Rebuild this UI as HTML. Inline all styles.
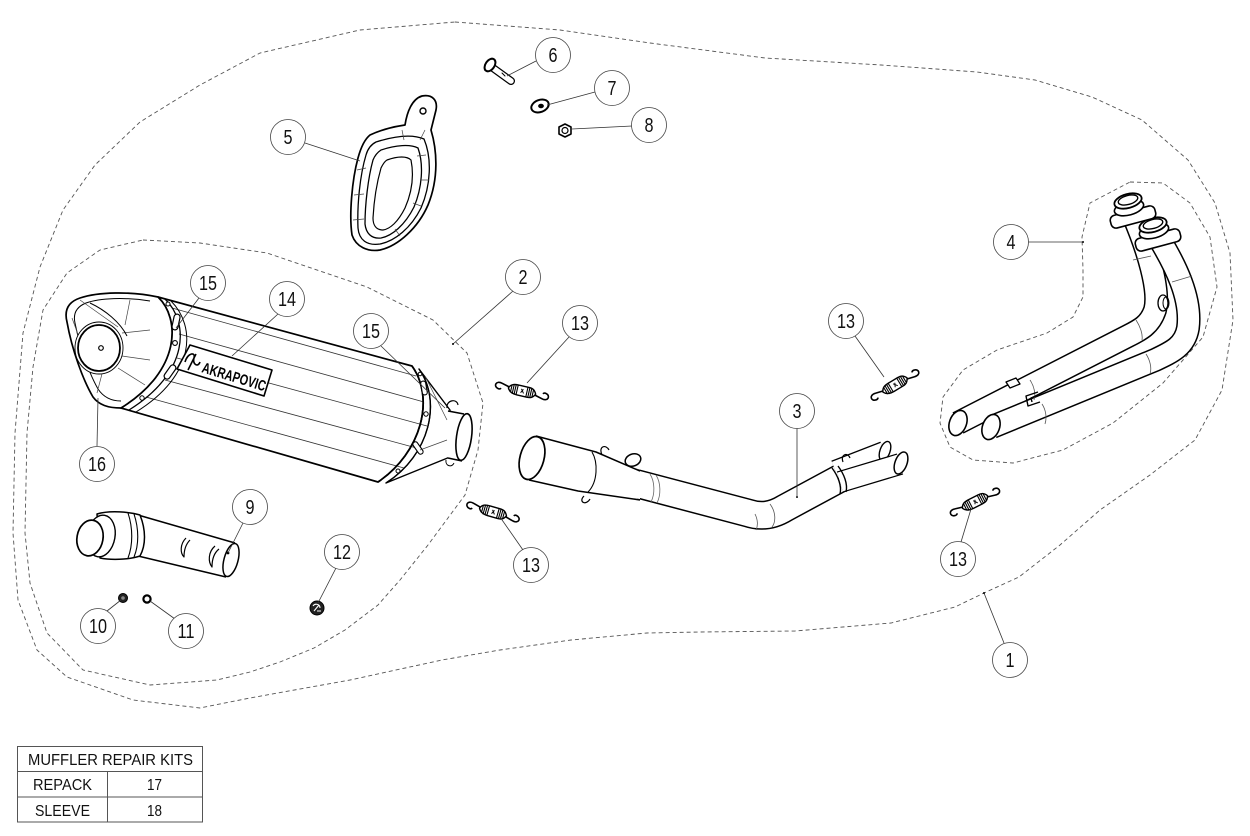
<!DOCTYPE html>
<html><head><meta charset="utf-8"><style>
html,body{margin:0;padding:0;background:#fff;}
svg{display:block;}
.t{font-family:"Liberation Sans Narrow","Liberation Sans",sans-serif;fill:#111;}
</style></head><body>
<svg width="1250" height="836" viewBox="0 0 1250 836" xmlns="http://www.w3.org/2000/svg">
<rect width="1250" height="836" fill="#fff"/>
<defs>
<g id="spr">
 <path d="M-13,-1 L-21,-3 C-28,-5 -29,2 -24,3 C-22,3.5 -21,2 -21,2" fill="none" stroke="#000" stroke-width="1.6"/>
 <path d="M13,1 L21,3 C28,5 29,-2 24,-3 C22,-3.5 21,-2 21,-2" fill="none" stroke="#000" stroke-width="1.6"/>
 <path d="M-14,0 C-12,-5 -8,-5 -4,-5 L6,-5 C10,-5 12,-4 14,0 C12,4 10,5 6,5 L-4,5 C-8,5 -12,4 -14,0 Z" fill="#fff" stroke="#000" stroke-width="1.4"/>
 <path d="M-11,-4 L-11,4 M-9,-5 L-9,5 M-7,-5 L-7,5 M-5,-5 L-5,5 M5,-5 L5,5 M7,-5 L7,5 M9,-4.5 L9,4.5 M11,-3.5 L11,3.5" stroke="#000" stroke-width="1.1"/>
 <path d="M-1,-2 L2,2 M1,-2 L-1,2" stroke="#000" stroke-width="1"/>
</g>
</defs>

<!-- outer dashed outline (1) -->
<path d="M455,22 L560,30 L650,43 L765,58 L881,65 L977,72 L1035,80 L1092,97 L1142,120 L1188,160 L1215,203 L1230,253 L1233,320 L1222,390 L1195,440 L1150,475 L1100,510 L1060,545 L1019,577 L984,593 L955,607 L891,623 L795,631 L700,632 L647,633 L571,640 L500,650 L442,660 L350,680 L250,698 L200,708 L133,700 L67,677 L37,650 L18,600 L13,533 L15,433 L23,333 L40,267 L63,210 L95,165 L140,122 L200,85 L260,53 L360,30 Z" fill="none" stroke="#555" stroke-width="0.9" stroke-dasharray="4 3"/>
<!-- inner dashed outline (2) -->
<path d="M143,240 L200,243 L267,253 L367,287 L433,320 L467,353 L483,403 L478,450 L465,495 L428,545 L400,580 L378,605 L345,630 L314,648 L280,662 L250,672 L217,680 L150,685 L83,670 L47,633 L30,583 L25,533 L27,433 L33,367 L43,310 L67,273 L100,250 Z" fill="none" stroke="#555" stroke-width="0.9" stroke-dasharray="4 3"/>
<!-- header dashed outline (4) -->
<path d="M1130,182 L1163,183 L1190,203 L1210,237 L1217,287 L1203,337 L1163,383 L1113,423 L1063,450 L1013,463 L973,460 L950,447 L940,423 L943,397 L963,370 L997,350 L1047,333 L1073,317 L1083,297 L1083,270 L1082,237 L1090,203 Z" fill="none" stroke="#555" stroke-width="0.9" stroke-dasharray="4 3"/>

<!-- ===== MUFFLER (2) ===== -->
<g stroke="#000" stroke-linejoin="round">
 <path d="M158,297 L412,366 C435,398 422,452 378,482 L121,408 C182,370 180,318 158,297 Z" fill="#fff" stroke-width="1.7"/>
 <g stroke="#333" stroke-width="0.8" fill="none">
  <path d="M172,308 L416,376"/>
  <path d="M179,334 L424,402"/>
  <path d="M177,358 L427,426"/>
  <path d="M165,380 L424,450"/>
  <path d="M146,397 L404,468"/>
 </g>
 <!-- front ring -->
 <path d="M165,299 C189,322 190,372 129,410" fill="none" stroke-width="1.3"/>
 <path d="M171,301 C196,326 196,375 136,412" fill="none" stroke-width="1"/>
 <rect x="-3" y="-8" width="6" height="16" rx="3" transform="translate(176,322) rotate(12)" fill="#fff" stroke-width="1.2"/>
 <rect x="-3" y="-8" width="6" height="16" rx="3" transform="translate(170,372) rotate(35)" fill="#fff" stroke-width="1.2"/>
 <circle cx="175" cy="343" r="2.4" fill="#fff" stroke-width="1.1"/>
 <circle cx="168" cy="304" r="2" fill="#fff" stroke-width="1"/>
 <circle cx="142" cy="398" r="2.2" fill="#fff" stroke-width="1"/>
 <!-- cap -->
 <path d="M158,297 C130,291 98,292 80,298 C68,302 64,310 67,322 C72,350 83,380 93,397 C99,405 108,408 121,408 C182,370 180,318 158,297 Z" fill="#fff" stroke-width="1.7"/>
 <path d="M150,301 C125,297 100,298 86,303 C76,307 73,314 75,323 C80,348 89,373 98,389 C104,398 112,401 121,401" fill="none" stroke-width="1"/>
 <path d="M80,300 L118,327 M72,318 L80,340 M97,393 L103,370 M130,300 L125,325 M150,330 L122,333 M150,360 L122,356 M145,385 L118,368" fill="none" stroke="#444" stroke-width="0.7"/>
 <path d="M90,303 C105,310 120,322 127,336" fill="none" stroke-width="1"/>
 <ellipse cx="99" cy="348" rx="24" ry="26" fill="#fff" stroke-width="0.9"/>
 <ellipse cx="99" cy="348" rx="21" ry="23" fill="#fff" stroke-width="1.8"/>
 <circle cx="101" cy="348" r="2.3" fill="#fff" stroke-width="1.2"/>
 <!-- back ring + cone -->
 <path d="M419,369 L450,410 L450,457 L386,483 C430,455 442,401 419,369 Z" fill="#fff" stroke-width="1.4"/>
 <path d="M412,366 C435,398 422,452 378,482" fill="none" stroke-width="1.7"/>
 <path d="M419,369 C442,401 430,455 386,483" fill="none" stroke-width="1.3"/>
 <rect x="-2.5" y="-7" width="5" height="14" rx="2.5" transform="translate(424,388) rotate(-10)" fill="#fff" stroke-width="1.1"/>
 <rect x="-2.5" y="-7" width="5" height="14" rx="2.5" transform="translate(418,448) rotate(-35)" fill="#fff" stroke-width="1.1"/>
 <circle cx="426" cy="414" r="2.2" fill="#fff" stroke-width="1"/>
 <circle cx="420" cy="374" r="1.8" fill="#fff" stroke-width="1"/>
 <circle cx="398" cy="471" r="2" fill="#fff" stroke-width="1"/>
 <path d="M425,376 L447,420 M420,450 L447,440" fill="none" stroke="#444" stroke-width="0.7"/>
 <!-- outlet -->
 <path d="M448,411 L464,414 L462,461 L448,458 Z" fill="#fff" stroke="none"/>
 <path d="M448,411 L464,414 M448,458 L462,461" fill="none" stroke-width="1.5"/>
 <ellipse cx="464" cy="437" rx="7.5" ry="23.5" transform="rotate(8 464 437)" fill="#fff" stroke-width="1.6"/>
 <path d="M447,408 C446,400 457,398 458,405" fill="none" stroke-width="1.2"/>
 <path d="M446,460 C445,466 452,468 454,463" fill="none" stroke-width="1"/>
 <!-- logo plate -->
 <path d="M190,345 L272,370 L264,396 L177,369 Z" fill="#fff" stroke-width="1.6"/>
 <path d="M185,362 C188,352 196,352 194,358 C192,364 198,368 200,362 M188,370 L196,354" fill="none" stroke-width="1.6"/>
 <text x="0" y="0" transform="translate(201,372) rotate(17)" font-family="Liberation Sans Narrow, Liberation Sans, sans-serif" font-weight="bold" font-size="15" textLength="66" lengthAdjust="spacingAndGlyphs" fill="#000" stroke="none">AKRAPOVIC</text>
</g>

<!-- ===== BRACKET (5) ===== -->
<g stroke="#000" fill="none" stroke-linejoin="round">
 <path d="M370,135 C385,128 398,126 405,125 C407,112 412,99 422,96 C432,94 438,100 436,110 L431,130 C437,150 439,178 428,205 C418,228 398,246 380,250 C368,252 356,247 352,235 C349,215 352,180 358,158 C361,147 365,139 370,135 Z" fill="#fff" stroke-width="1.7"/>
 <path d="M376,142 C395,136 412,134 424,139 C432,158 431,185 421,208 C411,228 395,241 380,244 C367,246 359,240 358,228 C357,205 360,175 366,155 C368,148 372,144 376,142 Z" stroke-width="1.3"/>
 <path d="M381,150 C396,145 410,144 418,148 C424,165 422,188 414,207 C405,225 392,236 381,238 C371,239 366,233 365,224 C365,205 368,178 373,160 C375,155 378,152 381,150 Z" stroke-width="1.3"/>
 <path d="M387,160 C398,156 407,156 411,160 C414,175 412,192 405,208 C398,222 390,229 383,230 C376,230 373,225 373,218 C374,200 377,182 381,168 C383,164 385,161 387,160 Z" stroke-width="1.2"/>
 <path d="M357,170 L366,168 M354,195 L364,194 M353,220 L364,219 M426,155 L417,156 M429,180 L420,180 M421,206 L413,203 M400,236 L395,229 M402,130 L404,140 M425,130 L420,140" stroke="#444" stroke-width="0.7"/>
 <circle cx="423" cy="111" r="3" stroke-width="1.4"/>
</g>

<!-- ===== 6,7,8 ===== -->
<g stroke="#000" stroke-linecap="round">
 <path d="M493,68 L511,81" stroke-width="8"/>
 <path d="M493,68 L511,81" stroke="#fff" stroke-width="5.5"/>
 <ellipse cx="490" cy="65" rx="4.5" ry="7" transform="rotate(35 490 65)" fill="#fff" stroke-width="2"/>
 <path d="M502,73 L505,76" stroke-width="1"/>
 <ellipse cx="540" cy="106" rx="9" ry="6" transform="rotate(-20 540 106)" fill="#fff" stroke-width="2"/>
 <ellipse cx="541" cy="106" rx="2.5" ry="1.8" fill="#000" stroke-width="0.8"/>
 <path d="M565,124 L571,127 L571,134 L565,137 L559,134 L559,127 Z" fill="#fff" stroke-width="1.6" stroke-linejoin="round"/>
 <circle cx="565" cy="130.5" r="3" fill="none" stroke-width="1.2"/>
</g>

<!-- ===== LINK PIPE (3) ===== -->
<g stroke-linejoin="round">
 <path d="M600,474 L748,513 C760,517 772,516 785,508 L848,474" fill="none" stroke="#000" stroke-width="29"/>
 <path d="M600,474 L748,513 C760,517 772,516 785,508 L848,474" fill="none" stroke="#fff" stroke-width="26"/>
 <path d="M835,470 L884,451" fill="none" stroke="#000" stroke-width="20"/>
 <path d="M835,470 L884,451" fill="none" stroke="#fff" stroke-width="17.5"/>
 <ellipse cx="885" cy="451" rx="5" ry="10" transform="rotate(20 885 451)" fill="#fff" stroke="#000" stroke-width="1.4"/>
 <path d="M840,482 L900,464" fill="none" stroke="#000" stroke-width="22"/>
 <path d="M840,482 L900,464" fill="none" stroke="#fff" stroke-width="19.5"/>
 <ellipse cx="901" cy="463" rx="6" ry="11.5" transform="rotate(20 901 463)" fill="#fff" stroke="#000" stroke-width="1.5"/>
 <path d="M832,468 C838,476 842,486 840,494 M838,466 C844,474 848,484 846,492" fill="none" stroke="#000" stroke-width="1.4"/>
 <path d="M770,504 C776,512 776,522 772,527 M755,514 C758,520 758,526 756,530" fill="none" stroke="#555" stroke-width="0.8"/>
 <path d="M540,436 L600,453 L640,470 L640,499 L578,491 L530,480 Z" fill="#fff"/>
 <path d="M536,436 L596,452 L640,471 M529,480 L578,491 L640,500" fill="none" stroke="#000" stroke-width="1.5"/>
 <path d="M592,452 C598,462 598,482 588,492" fill="none" stroke="#000" stroke-width="1.1"/>
 <path d="M650,474 C655,482 655,494 651,502 M656,475 C661,483 661,495 657,503" fill="none" stroke="#666" stroke-width="0.8"/>
 <ellipse cx="532" cy="458" rx="12" ry="22" transform="rotate(15 532 458)" fill="#fff" stroke="#000" stroke-width="1.7"/>
 <ellipse cx="633" cy="460" rx="8" ry="6" transform="rotate(-20 633 460)" fill="#fff" stroke="#000" stroke-width="1.5"/>
 <path d="M602,455 C598,446 606,444 609,450 M584,496 C578,502 586,506 590,499 M843,462 C840,454 848,452 850,458" fill="none" stroke="#000" stroke-width="1.2"/>
 <circle cx="797" cy="497" r="1" fill="#000"/>
</g>

<!-- ===== HEADER (4) ===== -->
<g stroke-linejoin="round">
 <path d="M1133,215 C1148,250 1160,290 1155,310 C1150,325 1140,330 1128,336 L958,423" fill="none" stroke="#000" stroke-width="24"/>
 <path d="M1133,215 C1148,250 1160,290 1155,310 C1150,325 1140,330 1128,336 L958,423" fill="none" stroke="#fff" stroke-width="21"/>
 <path d="M1160,240 C1175,265 1192,298 1188,328 C1185,346 1172,352 1155,360 L992,427" fill="none" stroke="#000" stroke-width="24"/>
 <path d="M1160,240 C1175,265 1192,298 1188,328 C1185,346 1172,352 1155,360 L992,427" fill="none" stroke="#fff" stroke-width="21"/>
 <ellipse cx="958" cy="423" rx="8.5" ry="13" transform="rotate(20 958 423)" fill="#fff" stroke="#000" stroke-width="1.6"/>
 <ellipse cx="991" cy="427" rx="8.5" ry="13" transform="rotate(20 991 427)" fill="#fff" stroke="#000" stroke-width="1.6"/>
 <path d="M1133,260 L1151,256 M1172,282 L1192,276 M1136,320 C1140,326 1143,334 1142,340 M1146,354 C1150,360 1152,368 1150,374 M1030,380 C1034,386 1036,394 1034,400 M1042,404 C1046,410 1047,418 1045,424" fill="none" stroke="#555" stroke-width="0.8"/>
 <ellipse cx="1163" cy="303" rx="5" ry="8" fill="#fff" stroke="#000" stroke-width="1.3"/>
 <ellipse cx="1166" cy="303" rx="3" ry="6" fill="none" stroke="#000" stroke-width="1"/>
 <path d="M1038,392 L1026,396 L1028,406 L1040,402 M1036,396 L1031,398 L1032,402" fill="none" stroke="#000" stroke-width="1.4"/>
 <path d="M1006,382 L1016,378 L1020,384 L1010,388 Z" fill="#fff" stroke="#000" stroke-width="1.3"/>
 <!-- flange 2 -->
 <rect x="-23" y="-6.5" width="46" height="13" rx="5" transform="translate(1158,240) rotate(-15)" fill="#fff" stroke="#000" stroke-width="1.6"/>
 <ellipse cx="1154" cy="231" rx="15" ry="7" transform="rotate(-15 1154 231)" fill="#fff" stroke="#000" stroke-width="1.6"/>
 <ellipse cx="1153" cy="225" rx="14" ry="7" transform="rotate(-15 1153 225)" fill="#fff" stroke="#000" stroke-width="1.8"/>
 <ellipse cx="1153" cy="224" rx="10" ry="4.5" transform="rotate(-15 1153 224)" fill="#fff" stroke="#000" stroke-width="1.4"/>
 <!-- flange 1 -->
 <rect x="-23" y="-6.5" width="46" height="13" rx="5" transform="translate(1133,217) rotate(-15)" fill="#fff" stroke="#000" stroke-width="1.6"/>
 <ellipse cx="1129" cy="208" rx="15" ry="7" transform="rotate(-15 1129 208)" fill="#fff" stroke="#000" stroke-width="1.6"/>
 <ellipse cx="1128" cy="201" rx="14" ry="7" transform="rotate(-15 1128 201)" fill="#fff" stroke="#000" stroke-width="1.8"/>
 <ellipse cx="1128" cy="200" rx="10" ry="4.5" transform="rotate(-15 1128 200)" fill="#fff" stroke="#000" stroke-width="1.4"/>
 <circle cx="1083" cy="242" r="1" fill="#000"/>
</g>

<!-- ===== SPRINGS (13) ===== -->
<use href="#spr" transform="translate(522,391) rotate(13)"/>
<use href="#spr" transform="translate(895,385) rotate(-31)"/>
<use href="#spr" transform="translate(493,512) rotate(16)"/>
<use href="#spr" transform="translate(975,502) rotate(-27)"/>

<!-- ===== INSERT (9) ===== -->
<g stroke="#000" stroke-linejoin="round">
 <path d="M140,515 L235,543 L226,577 L140,556 Z" fill="#fff" stroke="none"/>
 <path d="M138,515 L235,543 M138,556 L226,577" fill="none" stroke-width="1.5"/>
 <ellipse cx="231" cy="560" rx="7" ry="17" transform="rotate(15 231 560)" fill="#fff" stroke-width="1.5"/>
 <path d="M97,514 C110,510 130,512 140,515 C146,530 146,545 140,556 C128,560 110,560 100,558 Z" fill="#fff" stroke-width="1.5"/>
 <path d="M128,513 C133,528 133,545 128,558 M134,514 C139,529 139,545 134,557" fill="none" stroke-width="1.1"/>
 <ellipse cx="101" cy="536" rx="14" ry="21" transform="rotate(10 101 536)" fill="#fff" stroke-width="1.4"/>
 <ellipse cx="90" cy="538" rx="13" ry="18" transform="rotate(10 90 538)" fill="#fff" stroke-width="1.7"/>
 <path d="M186,538 C180,544 180,553 184,557 C184,550 186,544 190,540 M215,546 C208,552 208,562 212,567 C212,560 214,553 219,549" fill="#fff" stroke-width="1.2"/>
 <circle cx="228" cy="553" r="0.9" fill="#000"/>
</g>

<!-- ===== 10,11,12 ===== -->
<circle cx="123" cy="598" r="4.5" fill="#222" stroke="#000" stroke-width="1"/>
<circle cx="123" cy="598" r="1.8" fill="#888"/>
<circle cx="147" cy="599" r="3.6" fill="#fff" stroke="#000" stroke-width="2.2"/>
<circle cx="317" cy="608" r="7" fill="#222" stroke="#000" stroke-width="1"/>
<path d="M313,606 C315,603 320,604 320,608 M314,611 L319,605 M317,611 L321,611" fill="none" stroke="#fff" stroke-width="1.1"/>

<!-- ===== LEADERS ===== -->
<g stroke="#333" stroke-width="0.8" fill="none">
 <path d="M1004,643 L984,593"/>
 <path d="M513,291 L453,344"/>
 <path d="M797,428 L797,497"/>
 <path d="M1028,242 L1083,242"/>
 <path d="M305,143 L360,161"/>
 <path d="M536,61 L507,76"/>
 <path d="M595,92 L547,105"/>
 <path d="M632,126 L572,129"/>
 <path d="M243,523 L228,553"/>
 <path d="M107,611 L121,600"/>
 <path d="M175,619 L150,601"/>
 <path d="M336,568 L318,603"/>
 <path d="M569,337 L527,383"/>
 <path d="M855,336 L884,377"/>
 <path d="M523,550 L500,517"/>
 <path d="M961,542 L971,509"/>
 <path d="M278,314 L232,356"/>
 <path d="M199,298 L176,328"/>
 <path d="M381,346 L445,408"/>
 <path d="M97,446 L98,398"/>
</g>
<circle cx="984" cy="593" r="1" fill="#000"/>
<circle cx="453" cy="344" r="1" fill="#000"/>

<!-- ===== CALLOUTS ===== -->
<g fill="#fff" stroke="#444" stroke-width="0.8">
 <circle cx="1010" cy="660" r="17.5"/>
 <circle cx="523" cy="277" r="17.5"/>
 <circle cx="797" cy="411" r="17.5"/>
 <circle cx="1011" cy="242" r="17.5"/>
 <circle cx="288" cy="137" r="17.5"/>
 <circle cx="553" cy="55" r="17.5"/>
 <circle cx="612" cy="88" r="17.5"/>
 <circle cx="649" cy="125" r="17.5"/>
 <circle cx="250" cy="507" r="17.5"/>
 <circle cx="98" cy="626" r="17.5"/>
 <circle cx="186" cy="631" r="17.5"/>
 <circle cx="342" cy="552" r="17.5"/>
 <circle cx="580" cy="323" r="17.5"/>
 <circle cx="846" cy="321" r="17.5"/>
 <circle cx="531" cy="565" r="17.5"/>
 <circle cx="958" cy="559" r="17.5"/>
 <circle cx="287" cy="299" r="17.5"/>
 <circle cx="208" cy="283" r="17.5"/>
 <circle cx="371" cy="331" r="17.5"/>
 <circle cx="97" cy="464" r="17.5"/>
</g>
<g class="t" font-size="20" text-anchor="middle">
 <text x="1010" y="667" textLength="9" lengthAdjust="spacingAndGlyphs">1</text>
 <text x="523" y="284" textLength="9" lengthAdjust="spacingAndGlyphs">2</text>
 <text x="797" y="418" textLength="9" lengthAdjust="spacingAndGlyphs">3</text>
 <text x="1011" y="249" textLength="9" lengthAdjust="spacingAndGlyphs">4</text>
 <text x="288" y="144" textLength="9" lengthAdjust="spacingAndGlyphs">5</text>
 <text x="553" y="62" textLength="9" lengthAdjust="spacingAndGlyphs">6</text>
 <text x="612" y="95" textLength="9" lengthAdjust="spacingAndGlyphs">7</text>
 <text x="649" y="132" textLength="9" lengthAdjust="spacingAndGlyphs">8</text>
 <text x="250" y="514" textLength="9" lengthAdjust="spacingAndGlyphs">9</text>
 <text x="98" y="633" textLength="18" lengthAdjust="spacingAndGlyphs">10</text>
 <text x="186" y="638" textLength="17" lengthAdjust="spacingAndGlyphs">11</text>
 <text x="342" y="559" textLength="18" lengthAdjust="spacingAndGlyphs">12</text>
 <text x="580" y="330" textLength="18" lengthAdjust="spacingAndGlyphs">13</text>
 <text x="846" y="328" textLength="18" lengthAdjust="spacingAndGlyphs">13</text>
 <text x="531" y="572" textLength="18" lengthAdjust="spacingAndGlyphs">13</text>
 <text x="958" y="566" textLength="18" lengthAdjust="spacingAndGlyphs">13</text>
 <text x="287" y="306" textLength="18" lengthAdjust="spacingAndGlyphs">14</text>
 <text x="208" y="290" textLength="18" lengthAdjust="spacingAndGlyphs">15</text>
 <text x="371" y="338" textLength="18" lengthAdjust="spacingAndGlyphs">15</text>
 <text x="97" y="471" textLength="18" lengthAdjust="spacingAndGlyphs">16</text>
</g>

<!-- ===== TABLE ===== -->
<g fill="none" stroke="#555" stroke-width="1">
 <rect x="17.5" y="746.5" width="185" height="75.5"/>
 <path d="M17.5,771.5 L202.5,771.5 M17.5,797 L202.5,797 M107.5,771.5 L107.5,822"/>
</g>
<g class="t" font-size="16">
 <text x="28" y="765" textLength="165" lengthAdjust="spacingAndGlyphs">MUFFLER REPAIR KITS</text>
 <text x="33" y="790" textLength="59" lengthAdjust="spacingAndGlyphs">REPACK</text>
 <text x="147" y="790" textLength="15" lengthAdjust="spacingAndGlyphs">17</text>
 <text x="35" y="816" textLength="55" lengthAdjust="spacingAndGlyphs">SLEEVE</text>
 <text x="147" y="816" textLength="15" lengthAdjust="spacingAndGlyphs">18</text>
</g>
</svg>
</body></html>
